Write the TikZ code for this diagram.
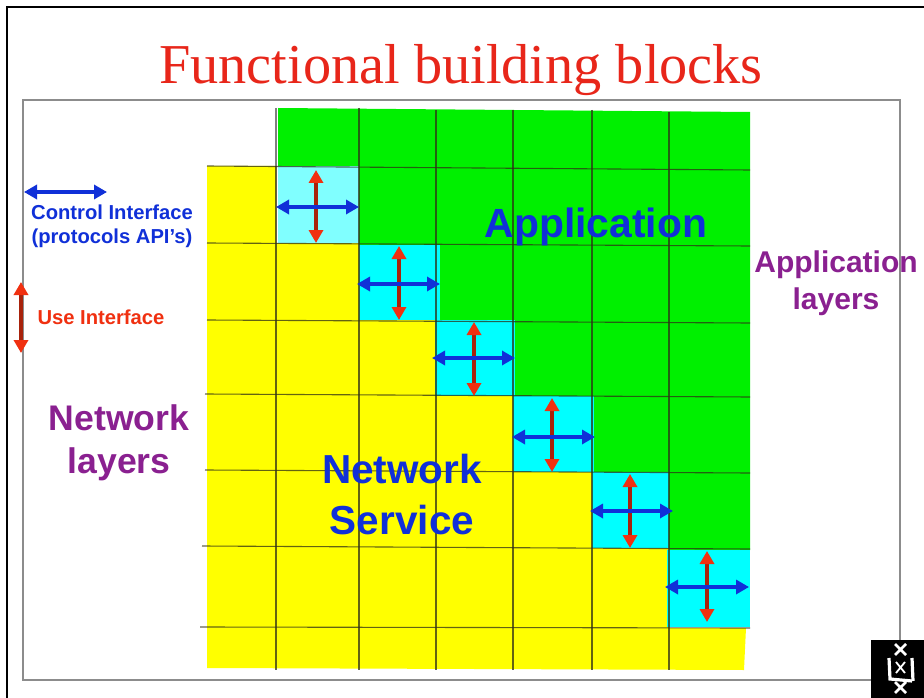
\documentclass[tikz,border=0pt]{standalone}
\usepackage{fontspec}
\setmainfont{Liberation Sans}
\newfontfamily\titlefont{Liberation Serif}
\usetikzlibrary{arrows.meta}
\definecolor{gridgreen}{HTML}{00F000}
\definecolor{gridyellow}{HTML}{FFFF00}
\definecolor{cellcyan}{HTML}{00FFFF}
\definecolor{cellpale}{HTML}{80FFFF}
\definecolor{gridline}{HTML}{303018}
\definecolor{ctrlblue}{HTML}{1030D8}
\definecolor{useRed}{HTML}{F03010}
\definecolor{titlered}{HTML}{E8261A}
\definecolor{layerpurple}{HTML}{8A2090}
\tikzset{
  x=1pt,y=-1pt,
  gridrule/.style={draw=gridline,draw opacity=0.75,line width=1.1pt},
  ctrlarrow/.style={draw=ctrlblue,line width=3.3pt,{Triangle[length=13pt,width=14pt]}-{Triangle[length=13pt,width=14pt]}},
  usearrow/.style={draw=useRed!70!black,line width=3.3pt,{Triangle[length=13pt,width=14pt,color=useRed]}-{Triangle[length=13pt,width=14pt,color=useRed]}},
  smalllabel/.style={font=\bfseries\fontsize{20.2}{24}\selectfont,align=center,inner sep=0pt},
  biglabel/.style={align=center,inner sep=0pt,text=ctrlblue},
  layerlabel/.style={align=center,inner sep=0pt,text=layerpurple},
}
\newcommand{\cellarrows}[6]{%
  \draw[usearrow] (#4,#5) -- (#4,#6);
  \draw[ctrlarrow] (#1,#3) -- (#2,#3);
}
\begin{document}
\begin{tikzpicture}
\useasboundingbox (0,0) rectangle (924,698);
\fill[white] (0,0) rectangle (924,698);
% slide frame
\draw[black,line width=2.5pt] (7,698) -- (7,7) -- (924,7);
\draw[black!45,line width=1.3pt] (23,680) -- (23,100) -- (900,100) -- (900,680) -- cycle;
% title
\node[inner sep=0pt,text=titlered,font=\titlefont\fontsize{56.3}{56}\selectfont] (title) at (461,70) {Functional building blocks};
% fills
\fill[gridgreen] (278,108) -- (750,112) -- (750,550) -- (669,550) -- (669,472) -- (594,472) -- (594,396) -- (515,396) -- (515,320) -- (440,320) -- (440,245) -- (359,245) -- (359,166) -- (278,166) -- cycle;
\fill[gridyellow] (207,166) -- (276,166) -- (276,243) -- (359,243) -- (359,320) -- (436,320) -- (436,394) -- (513,394) -- (513,470) -- (592,470) -- (592,548) -- (669,548) -- (669,628) -- (746,628) -- (744,670) -- (207,668) -- cycle;
\fill[cellpale] (278,166) rectangle (359,243);
\fill[cellcyan] (359,245) rectangle (440,320);
\fill[cellcyan] (435,320) rectangle (515,396);
\fill[cellcyan] (513,396) rectangle (594,472);
\fill[cellcyan] (592,472) rectangle (669,548);
\fill[cellcyan] (667,550) rectangle (750,627);
% grid
\draw[black!50,line width=1.3pt] (276,108) -- (276,166);
\draw[gridrule] (276,166) -- (276,670);
\draw[gridrule] (359,108) -- (359,670);
\draw[gridrule] (436,110) -- (436,670);
\draw[gridrule] (513,110) -- (513,670);
\draw[gridrule] (592,110) -- (592,670);
\draw[gridrule] (669,112) -- (669,670);
\draw[gridrule] (207,166) -- (750,170);
\draw[gridrule] (207,243) -- (750,246);
\draw[gridrule] (207,320) -- (750,323);
\draw[gridrule] (205,394) -- (750,397);
\draw[gridrule] (205,470) -- (750,473);
\draw[gridrule] (202,546) -- (750,549);
\draw[gridrule] (200,627) -- (750,628);
% arrows
\cellarrows{276}{359}{207}{316}{170}{243}
\cellarrows{357}{440}{284}{399}{246}{320}
\cellarrows{432}{515}{358}{474}{322}{396}
\cellarrows{512}{595}{437}{552}{398}{472}
\cellarrows{590}{673}{511}{630}{474}{548}
\cellarrows{665}{749}{587}{707}{551}{622}
% legend
\draw[ctrlarrow] (24,192) -- (107,192);
\draw[usearrow] (21,282) -- (21,353);
\node[smalllabel,text=ctrlblue] (ctrl) at (112,226) {Control Interface\\(protocols API's)};
\node[smalllabel,text=useRed] (use) at (101,317) {Use Interface};
% labels
\node[layerlabel,font=\bfseries\fontsize{35.6}{43}\selectfont] (net) at (119,443) {Network\\layers};
\node[layerlabel,font=\bfseries\fontsize{30}{37}\selectfont] (app) at (836,283) {Application\\layers};
\node[biglabel,font=\bfseries\fontsize{40.8}{41}\selectfont] (appl) at (596,227) {Application};
\node[biglabel,font=\bfseries\fontsize{40.5}{51}\selectfont] (svc) at (402,495) {Network\\Service};
% logo
\fill[black] (871,640) rectangle (924,698);
\begin{scope}[white,line width=2.6pt]
\draw (895,644) -- (906,655) (906,644) -- (895,655);
\draw (895,682) -- (906,693) (906,682) -- (895,693);
\draw[line width=1.8pt] (896,662) -- (905,673) (905,662) -- (896,673);
\draw[line width=3.2pt] (889,658) -- (890,679) -- (912,681) (912,658) -- (913,681);
\end{scope}
\end{tikzpicture}
\end{document}
